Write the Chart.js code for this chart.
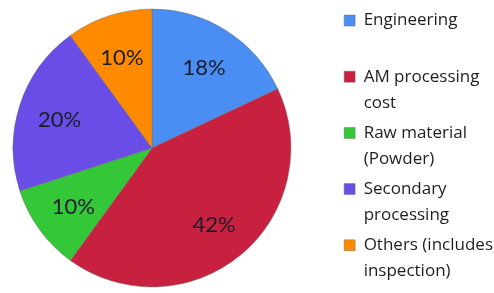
<!DOCTYPE html>
<html>
<head>
<meta charset="utf-8">
<script src="https://cdn.jsdelivr.net/npm/chart.js@4.4.1/dist/chart.umd.min.js"></script>
<style>
  html, body { margin: 0; padding: 0; background: #fff; }
  #wrap { width: 494px; height: 293px; }
</style>
</head>
<body>
<div id="wrap"><canvas id="costChart" width="494" height="293"></canvas></div>
<script>
// ===== Data =====
const categories = [
  ["Engineering", ""],
  ["AM processing", "cost"],
  ["Raw material", "(Powder)"],
  ["Secondary", "processing"],
  ["Others (includes", "inspection)"]
];
const shares = [18, 42, 10, 20, 10];
const sliceColors = ["#4a8ef4", "#c8203f", "#34c838", "#6a4de6", "#ff8a00"];

// width kept for the pie, the rest goes to the legend
const pieBoxWidth = 304;

// ===== Percent labels inside slices =====
const sliceLabels = {
  id: "sliceLabels",
  afterDatasetsDraw(chart) {
    const { ctx } = chart;
    const meta = chart.getDatasetMeta(0);
    ctx.save();
    ctx.font = "22px Lato";
    ctx.fillStyle = "#1c1c2c";
    ctx.textAlign = "center";
    ctx.textBaseline = "middle";
    meta.data.forEach((arc, i) => {
      const { x, y, startAngle, endAngle, outerRadius } = arc.getProps(["x", "y", "startAngle", "endAngle", "outerRadius"], true);
      const mid = (startAngle + endAngle) / 2;
      const r = outerRadius * 0.7;
      ctx.fillText(shares[i] + "%", x + Math.cos(mid) * r, y + Math.sin(mid) * r + 2);
    });
    ctx.restore();
  }
};

// ===== Gap between pie and legend =====
const legendGap = {
  id: "legendGap",
  afterInit(chart) {
    // trim the legend's built-in right margin a bit
    const legend = chart.legend;
    const fit = legend.fit;
    legend.fit = function () {
      fit.call(this);
      this.width = Math.max(0, this.width - 9);
    };

    Chart.layouts.addBox(chart, {
      position: "right",
      weight: 0,
      fullSize: false,
      options: { display: false }, // not counted when the legend width is limited
      isHorizontal() { return false; },
      update(maxWidth, maxHeight) {
        const lw = chart.legend ? chart.legend.width : 0;
        this.width = Math.max(0, chart.width - lw - pieBoxWidth);
        this.height = maxHeight;
      },
      draw() {}
    });
  }
};

new Chart(document.getElementById("costChart"), {
  type: "pie",
  data: {
    labels: categories,
    datasets: [{
      data: shares,
      backgroundColor: sliceColors,
      borderColor: "rgba(110,110,110,0.45)",
      borderWidth: 1,
      radius: 139
    }]
  },
  options: {
    responsive: false,
    animation: false,
    layout: { padding: { top: 3, bottom: 0, left: 0, right: 0 } },
    plugins: {
      tooltip: { enabled: false },
      legend: {
        position: "right",
        align: "end",
        labels: {
          boxWidth: 11,
          boxHeight: 11,
          padding: 4,
          color: "#1e1e1e",
          font: { family: "Open Sans", size: 17, lineHeight: 1.535 }
        }
      }
    }
  },
  plugins: [sliceLabels, legendGap]
});
</script>
</body>
</html>
